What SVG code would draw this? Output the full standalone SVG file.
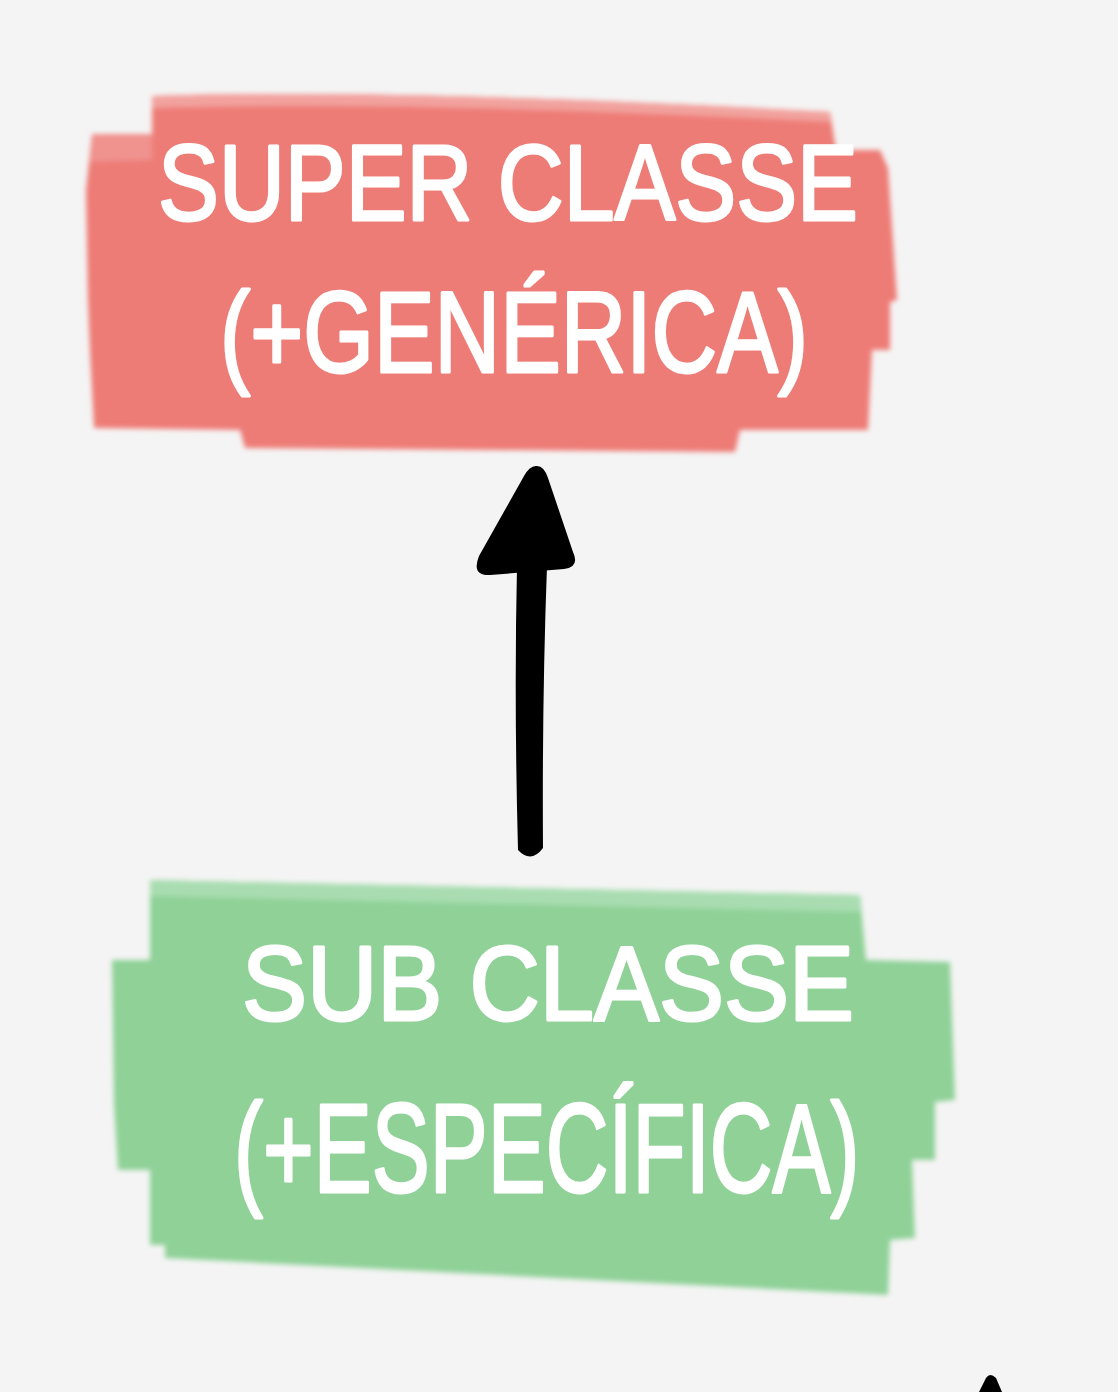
<svg xmlns="http://www.w3.org/2000/svg" width="1118" height="1392" viewBox="0 0 1118 1392">
<defs>
<filter id="soft" x="-5%" y="-5%" width="110%" height="110%"><feGaussianBlur stdDeviation="2.5"/></filter>
<style>
.red{fill:#EE7B76}
.redl{fill:#F2A29E}
.grn{fill:#8FD197}
.grnl{fill:#A9DDB1}
.lbl{font-family:"Liberation Sans","DejaVu Sans",sans-serif;fill:#FFFFFF;stroke:#FFFFFF;stroke-width:3;stroke-linejoin:round;font-weight:normal;text-anchor:start}
.ink{fill:#000000}
</style>
</defs>
<rect width="1118" height="1392" fill="#F4F4F4"/>
<g id="superclasse">
<g filter="url(#soft)">
<path class="red" d="M152,96 Q400,88 830,112 L836,150 L880,150 L888,168 L897,300 L890,302 L890,350 L872,350 L868,430 L740,430 L735,452 L245,448 L240,430 L94,428 L90,352 L88,300 L86,190 L92,134 L152,134 Z"/>
<path class="redl" d="M152,96 Q400,88 830,112 L832,122 Q400,100 152,108 Z"/>
<path class="redl" opacity="0.6" d="M92,134 L152,134 L152,160 L90,162 Z"/>
</g>
<text class="lbl" x="158" y="220" font-size="108" textLength="700" lengthAdjust="spacingAndGlyphs">SUPER CLASSE</text>
<text class="lbl" x="220" y="372" font-size="115" textLength="588" lengthAdjust="spacingAndGlyphs">(+GENÉRICA)</text>
</g>
<g id="subclasse">
<g filter="url(#soft)">
<path class="grn" d="M150,880 L860,895 L866,960 L950,962 L955,1100 L935,1102 L935,1160 L912,1160 L915,1238 L890,1240 L888,1295 L165,1258 L165,1245 L150,1245 L150,1170 L118,1170 L114,1105 L112,960 L150,960 Z"/>
<path class="grnl" d="M150,880 L860,895 L862,912 L150,896 Z"/>
</g>
<text class="lbl" x="242" y="1020" font-size="105" textLength="612" lengthAdjust="spacingAndGlyphs">SUB CLASSE</text>
<text class="lbl" transform="translate(234,1192) scale(0.69,1)" x="0" y="0" font-size="126">(+ESPECÍFICA)</text>
</g>
<g id="connectors">
<path class="ink" d="M518,850 Q514,700 517,566 L547,566 Q542,700 543,848 Q531,864 518,850 Z"/>
<path class="ink" d="M537,466 Q530,465 524,476 L479,556 Q471,576 490,575 L564,569 Q580,567 573,552 L548,478 Q544,466 537,466 Z"/>
<path class="ink" d="M979,1392 L986,1378 Q990,1372 996,1378 L1002,1392 Z"/>
</g>
</svg>
